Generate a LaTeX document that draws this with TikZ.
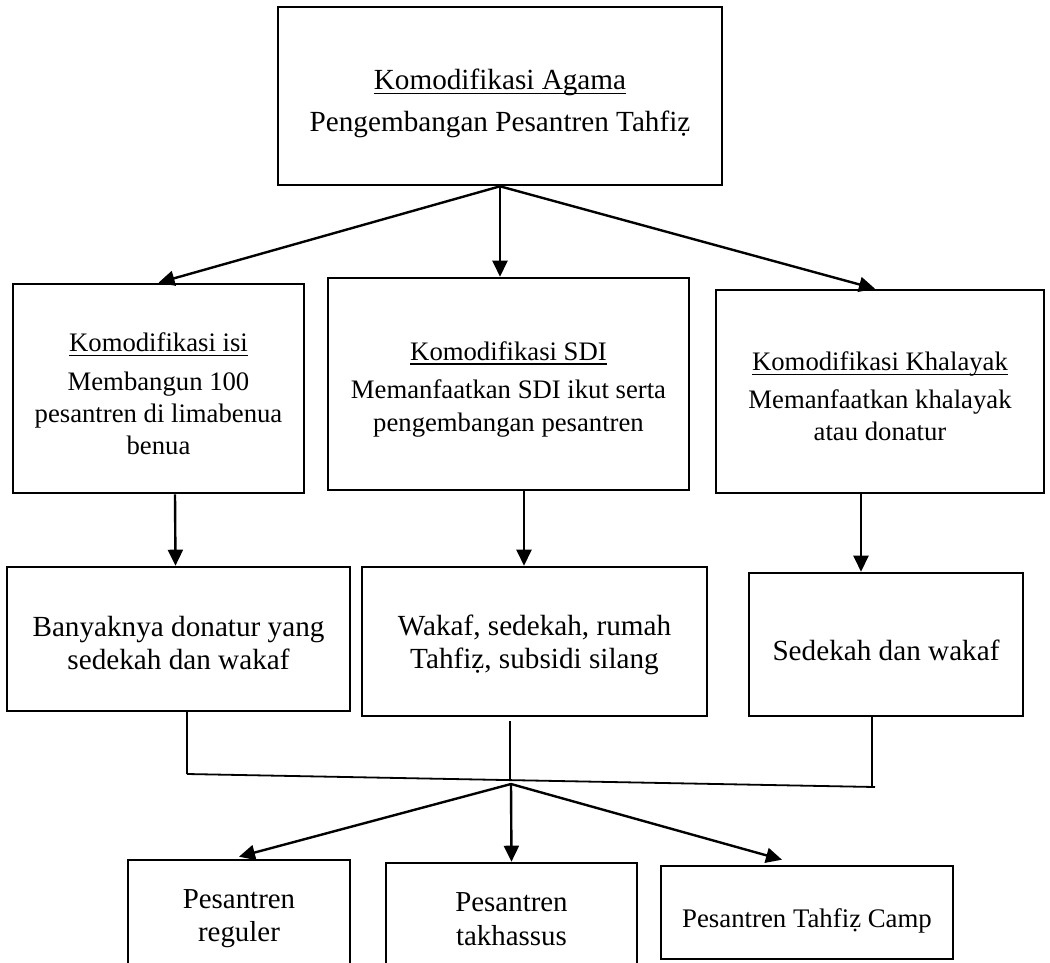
\documentclass[tikz,border=0pt]{standalone}
\usepackage{fontspec}
\setmainfont{Liberation Serif}
\usetikzlibrary{arrows.meta}

% underlined heading with the rule just below the baseline
\newcommand\headul[1]{\setbox0=\hbox{#1}\rlap{\rule[-4.6pt]{\wd0}{1.3pt}}\box0}
% invisible strut that gives the first line of a box extra room above it
\newcommand\topgap[1]{\rule{0pt}{#1}}

\begin{document}
\begin{tikzpicture}[x=1pt,y=-1pt,
  box/.style={draw, line width=2.6pt, align=center, inner sep=0pt},
  toptext/.style={font=\fontsize{29.2}{33}\selectfont},
  midtext/.style={font=\fontsize{26.7}{32}\selectfont},
  lowtext/.style={font=\fontsize{29.2}{33}\selectfont},
  endtext/.style={font=\fontsize{28.9}{33.5}\selectfont},
  arr/.style={line width=2.4pt, -{Triangle[length=16pt,width=15pt]}},
  stem/.style={line width=1.6pt},
  bar/.style={line width=1.8pt}]

\useasboundingbox (0,0) rectangle (1050,962);
\fill[white] (0,0) rectangle (1050,962);
\clip (0,0) rectangle (1050,962);

% top box
\node[box, toptext, minimum width=444pt, minimum height=178pt] (top) at (500,96)
  {\topgap{36pt}\headul{Komodifikasi Agama}\\[9pt] Pengembangan Pesantren Tahfiẓ};

% three kinds of commodification
\node[box, midtext, minimum width=291pt, minimum height=209pt] (k1) at (158.5,388.5)
  {\topgap{30pt}\headul{Komodifikasi isi}\\[7pt] Membangun 100\\ pesantren di limabenua\\ benua};
\node[box, midtext, minimum width=361pt, minimum height=212pt] (k2) at (508.5,384)
  {\topgap{29pt}\headul{Komodifikasi SDI}\\[6pt] Memanfaatkan SDI ikut serta\\[1pt] pengembangan pesantren};
\node[box, midtext, minimum width=328pt, minimum height=203pt] (k3) at (880,391.5)
  {\topgap{28pt}\headul{Komodifikasi Khalayak}\\[6pt] Memanfaatkan khalayak\\ atau donatur};

% their results
\node[box, lowtext, minimum width=343pt, minimum height=144pt] (r1) at (178.5,639)
  {\topgap{28pt}Banyaknya donatur yang\\ sedekah dan wakaf};
\node[box, lowtext, minimum width=345pt, minimum height=149pt] (r2) at (534.5,641.5)
  {\topgap{28pt}Wakaf, sedekah, rumah\\ Tahfiẓ, subsidi silang};
\node[box, lowtext, minimum width=274pt, minimum height=143pt,
      text height=31pt, text depth=0pt] (r3) at (886,644.5)
  {Sedekah dan wakaf};

% kinds of pesantren
\node[box, endtext, minimum width=222pt, minimum height=117pt] (b1) at (239,918.5)
  {Pesantren\\ reguler};
\node[box, endtext, minimum width=251pt, minimum height=112pt] (b2) at (511.5,919)
  {Pesantren\\ takhassus};
\node[box, font=\fontsize{26.8}{32}\selectfont, minimum width=292pt, minimum height=93pt,
      text height=35pt, text depth=6pt] (b3) at (807,912.5)
  {Pesantren Tahfiẓ Camp};

% arrows from the top box
\draw[arr] (top.south) -- (k1.north);
\draw[arr] (top.south) -- (top.south |- k2.north);
\draw[arr] (top.south) -- ([xshift=-5pt]k3.north);

% arrows down to the results
\draw[arr] ([xshift=16.5pt]k1.south) -- ([xshift=17pt]k1.south |- r1.north);
\draw[arr] ([xshift=15.5pt]k2.south) -- ([xshift=15.5pt]k2.south |- r2.north);
\draw[arr] ([xshift=-19pt]k3.south) -- ([xshift=-19pt]k3.south |- r3.north);

% joining bar
\coordinate (jl) at (187,774);
\coordinate (jm) at (510,780);
\coordinate (jr) at (875,787);
\coordinate (hub) at (511,784);

\draw[stem] ([xshift=8.5pt]r1.south) -- (jl);
\draw[stem] ([xshift=-24.5pt,yshift=-4pt]r2.south) -- (jm);
\draw[stem] ([xshift=-14pt]r3.south) -- ([xshift=-14pt]r3.south |- jr);
\draw[bar] (jl) -- (jr);

% arrows to the kinds of pesantren
\draw[arr] (hub) -- ([yshift=2pt]b1.north);
\draw[arr] (hub) -- (b2.north);
\draw[arr] (hub) -- ([xshift=-25pt,yshift=5pt]b3.north);

\end{tikzpicture}
\end{document}
